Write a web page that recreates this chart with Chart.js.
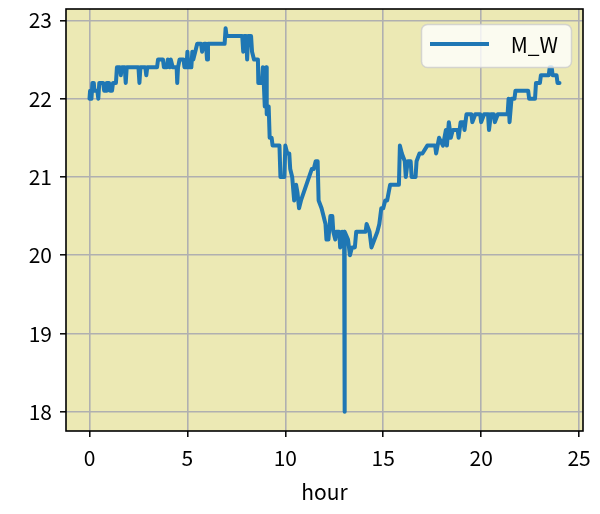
<!DOCTYPE html>
<html>
<head>
<meta charset="utf-8">
<script src="https://cdn.jsdelivr.net/npm/chart.js@4/dist/chart.umd.min.js"></script>
<style>
html,body{margin:0;padding:0;background:#fff;}
</style>
</head>
<body>
<canvas id="chart" width="600" height="514"></canvas>
<script>
// measured values (hour of day, M_W)
const hours=[
  0.00,0.03,0.08,0.10,0.15,0.22,0.25,0.40,0.45,0.50,0.70,0.75,0.85,0.88,1.00,1.05,1.15,1.20,1.35,1.40,
  1.55,1.60,1.65,1.80,1.85,1.90,2.50,2.55,2.60,2.85,2.90,2.95,3.45,3.50,3.75,3.80,3.95,4.00,4.10,4.15,
  4.25,4.45,4.48,4.52,4.60,4.80,4.85,4.95,5.00,5.05,5.20,5.25,5.30,5.40,5.50,5.70,5.75,5.85,5.95,6.00,
  6.05,6.90,6.95,7.00,7.80,7.85,7.90,8.00,8.05,8.10,8.25,8.30,8.40,8.60,8.62,8.80,8.85,8.90,8.95,9.02,
  9.05,9.15,9.20,9.30,9.35,9.70,9.75,9.95,10.00,10.10,10.20,10.25,10.35,10.45,10.55,10.62,10.70,10.80,11.35,11.45,
  11.55,11.65,11.70,11.85,11.95,12.05,12.10,12.20,12.30,12.40,12.45,12.55,12.60,12.75,12.80,12.90,12.95,13.00,13.02,13.04,
  13.20,13.30,13.40,13.55,13.62,14.10,14.15,14.30,14.40,14.55,14.70,14.80,14.90,15.00,15.10,15.20,15.35,15.80,15.85,15.95,
  16.10,16.15,16.25,16.40,16.45,16.65,16.70,16.85,17.00,17.25,17.65,17.70,17.85,18.05,18.20,18.25,18.35,18.45,18.55,18.80,
  18.85,18.95,19.10,19.15,19.25,19.50,19.55,19.70,19.95,20.00,20.15,20.35,20.40,20.50,20.65,20.70,20.85,21.35,21.40,21.45,
  21.55,21.70,21.75,22.40,22.45,22.75,22.80,23.00,23.05,23.45,23.50,23.60,23.65,23.85,23.90,24.00
];
const mw=[
  22.0,22.1,22.1,22.0,22.2,22.2,22.1,22.1,22.0,22.2,22.2,22.1,22.1,22.2,22.2,22.1,22.1,22.2,22.2,22.4,
  22.4,22.3,22.4,22.4,22.2,22.4,22.4,22.2,22.4,22.4,22.3,22.4,22.4,22.5,22.5,22.4,22.4,22.5,22.4,22.5,
  22.4,22.4,22.2,22.4,22.5,22.5,22.4,22.4,22.6,22.4,22.4,22.6,22.5,22.6,22.7,22.7,22.6,22.7,22.7,22.5,
  22.7,22.7,22.9,22.8,22.8,22.6,22.8,22.8,22.5,22.8,22.8,22.6,22.5,22.5,22.2,22.2,22.4,22.2,21.9,22.4,
  21.8,21.9,21.5,21.5,21.4,21.4,21.0,21.0,21.4,21.3,21.3,21.1,21.0,20.7,20.9,20.8,20.6,20.7,21.1,21.1,
  21.2,21.2,20.7,20.6,20.5,20.4,20.2,20.2,20.5,20.5,20.3,20.2,20.3,20.3,20.1,20.3,20.2,20.3,18.0,20.3,
  20.2,20.0,20.1,20.1,20.3,20.3,20.4,20.3,20.1,20.2,20.3,20.4,20.6,20.6,20.7,20.7,20.9,20.9,21.4,21.3,
  21.2,21.0,21.2,21.2,21.0,21.0,21.2,21.3,21.3,21.4,21.4,21.3,21.5,21.4,21.6,21.4,21.7,21.5,21.6,21.6,
  21.5,21.7,21.7,21.6,21.8,21.8,21.7,21.8,21.8,21.7,21.8,21.8,21.6,21.8,21.8,21.7,21.8,21.8,22.0,21.7,
  22.0,22.0,22.1,22.1,22.0,22.0,22.2,22.2,22.3,22.3,22.4,22.4,22.3,22.3,22.2,22.2
];
const xTicks=[0,5,10,15,20,25];
const yTicks=[18,19,20,21,22,23];
const seriesName="M_W";
const xTitle="hour";

const FONT="'Noto Sans CJK JP','Noto Sans',sans-serif";
const BG="#ece9b4";

// plot background + black frame + legend
const frame={
  id:"frame",
  beforeDraw(chart){
    const a=chart.chartArea, ctx=chart.ctx;
    ctx.save();
    ctx.fillStyle=BG;
    ctx.fillRect(a.left,a.top,a.right-a.left,a.bottom-a.top);
    ctx.restore();
  },
  afterDraw(chart){
    const a=chart.chartArea, ctx=chart.ctx;
    ctx.save();
    ctx.strokeStyle="#000";
    ctx.lineWidth=1.6;
    ctx.strokeRect(a.left,a.top,a.right-a.left,a.bottom-a.top);
    const x=421, y=24, w=150, h=43;
    ctx.beginPath();
    ctx.roundRect(x+0.5,y+0.5,w,h,6);
    ctx.fillStyle="rgba(255,255,255,0.8)";
    ctx.fill();
    ctx.strokeStyle="rgba(204,204,204,0.8)";
    ctx.lineWidth=1.5;
    ctx.stroke();
    ctx.beginPath();
    ctx.moveTo(430,44);ctx.lineTo(489,44);
    ctx.strokeStyle="#1f77b4";
    ctx.lineWidth=4;
    ctx.stroke();
    ctx.fillStyle="#000";
    ctx.font="21px "+FONT;
    ctx.textAlign="right";
    ctx.textBaseline="middle";
    ctx.fillText(seriesName,558,45);
    ctx.restore();
  }
};

const gridOpts={color:"#b0b0b0",lineWidth:1.6,tickColor:"#000",tickLength:6,tickWidth:1.5};

new Chart(document.getElementById("chart"),{
  type:"line",
  data:{
    datasets:[{
      label:seriesName,
      data:hours.map((h,i)=>({x:h,y:mw[i]})),
      borderColor:"#1f77b4",
      borderWidth:4,
      borderJoinStyle:"round",
      borderCapStyle:"round",
      pointRadius:0,
      tension:0,
      fill:false
    }]
  },
  options:{
    responsive:false,
    animation:false,
    devicePixelRatio:1,
    layout:{padding:{top:9,right:17,left:0,bottom:0}},
    plugins:{legend:{display:false},tooltip:{enabled:false}},
    scales:{
      x:{
        type:"linear",min:-1.2,max:25.2,
        afterBuildTicks:s=>{s.ticks=xTicks.map(v=>({value:v}));},
        afterFit:s=>{s.height=83;s.paddingLeft=0;s.paddingRight=0;},
        grid:gridOpts,
        border:{display:false},
        ticks:{color:"#000",font:{family:FONT,size:21},padding:8,maxRotation:0},
        title:{display:true,text:xTitle,color:"#000",font:{family:FONT,size:21},padding:{top:0,bottom:9}}
      },
      y:{
        min:17.755,max:23.145,
        afterBuildTicks:s=>{s.ticks=yTicks.map(v=>({value:v}));},
        afterFit:s=>{s.width=66;s.paddingTop=0;s.paddingBottom=0;},
        grid:gridOpts,
        border:{display:false},
        ticks:{color:"#000",font:{family:FONT,size:21},padding:8}
      }
    }
  },
  plugins:[frame]
});
</script>
</body>
</html>
